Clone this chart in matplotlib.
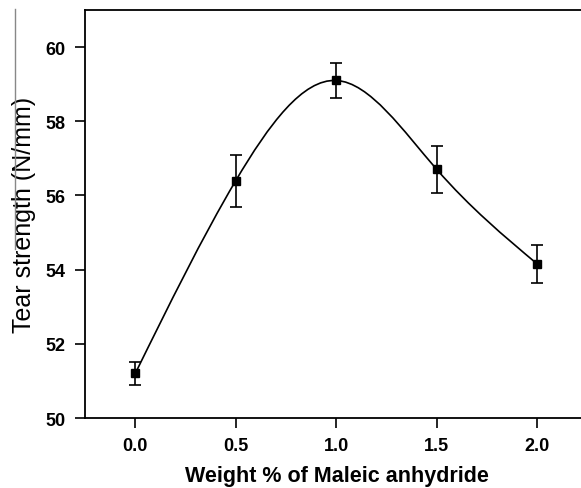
import numpy as np
import matplotlib
matplotlib.use("Agg")
import matplotlib.pyplot as plt
from matplotlib.path import Path
from matplotlib.patches import PathPatch
from matplotlib.lines import Line2D

# data
ma_wt = [0.0, 0.5, 1.0, 1.5, 2.0]
tear_strength = [51.2, 56.4, 59.1, 56.7, 54.15]
tear_err = [0.3, 0.7, 0.47, 0.63, 0.52]
xticks = [0.0, 0.5, 1.0, 1.5, 2.0]
yticks = [50, 52, 54, 56, 58, 60]

plt.rcParams['font.family'] = ['Liberation Sans', 'DejaVu Sans']

fig = plt.figure(figsize=(5.81, 4.89), dpi=100)
ax = fig.add_axes([85 / 581, 1 - 419 / 489, 1 - 85 / 581, (419 - 11) / 489])


def spline_path(xs, ys):
    # natural cubic spline drawn as bezier segments
    xs = np.asarray(xs, float)
    ys = np.asarray(ys, float)
    n = len(xs)
    h = np.diff(xs)
    A = np.zeros((n, n))
    r = np.zeros(n)
    A[0, 0] = A[-1, -1] = 1
    for i in range(1, n - 1):
        A[i, i - 1] = h[i - 1]
        A[i, i] = 2 * (h[i - 1] + h[i])
        A[i, i + 1] = h[i]
        r[i] = 6 * ((ys[i + 1] - ys[i]) / h[i] - (ys[i] - ys[i - 1]) / h[i - 1])
    m = np.linalg.solve(A, r)  # second derivatives
    verts = [(xs[0], ys[0])]
    codes = [Path.MOVETO]
    for i in range(n - 1):
        s = (ys[i + 1] - ys[i]) / h[i]
        d0 = s - h[i] * (2 * m[i] + m[i + 1]) / 6
        d1 = s + h[i] * (m[i] + 2 * m[i + 1]) / 6
        k = h[i] / 3
        verts += [(xs[i] + k, ys[i] + d0 * k),
                  (xs[i + 1] - k, ys[i + 1] - d1 * k),
                  (xs[i + 1], ys[i + 1])]
        codes += [Path.CURVE4] * 3
    return Path(verts, codes)


ax.add_patch(PathPatch(spline_path(ma_wt, tear_strength), facecolor='none',
                       edgecolor='black', lw=1.2, zorder=2))
ax.errorbar(ma_wt, tear_strength, yerr=tear_err, fmt='s', color='black',
            ms=6, capsize=4, elinewidth=1.2, capthick=1.2, zorder=3)

ax.set_xlim(-0.25, (581 - 136) / 200.7)
ax.set_ylim(50, 61)
ax.set_xticks(xticks)
ax.set_xticklabels([f"{t:.1f}" for t in xticks])
ax.set_yticks(yticks)
ax.spines['right'].set_visible(False)
for s in ax.spines.values():
    s.set_linewidth(1.3)
ax.tick_params(direction='out', length=7, width=1.2, labelsize=13, pad=7)
for lab in ax.get_xticklabels() + ax.get_yticklabels():
    lab.set_fontweight('bold')

ax.set_xlabel("Weight % of Maleic anhydride", fontsize=15.5, fontweight='bold')
ax.set_ylabel("Tear strength (N/mm)", fontsize=18)
ax.xaxis.set_label_coords((337 - 85) / 496, -(477 - 419) / 408)
ax.xaxis.label.set_va('center')
ax.yaxis.set_label_coords(-(85 - 24) / 496, 0.5)
ax.yaxis.label.set_va('center')

# stray gray rule at the left edge of the scan
fig.add_artist(Line2D([15 / 581, 15 / 581], [1 - 10 / 489, 1 - 250 / 489],
                      color='#888888', lw=1.0))

fig.savefig("out.png", dpi=100)
